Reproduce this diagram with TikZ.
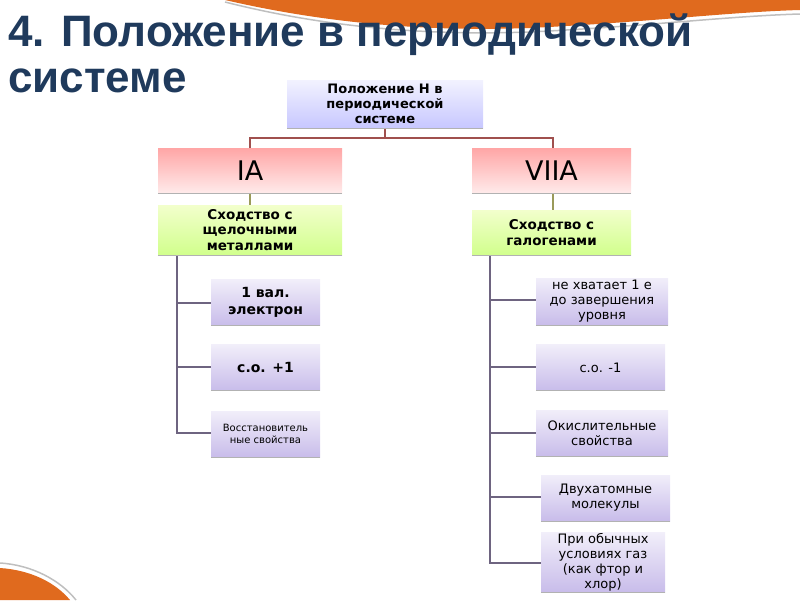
\documentclass[tikz,border=0pt]{standalone}
\usepackage{fontspec}
\setmainfont{DejaVu Sans}
\newfontfamily\titlefont{Liberation Sans}
\usetikzlibrary{positioning}
\definecolor{navy}{HTML}{1F3A5C}
\definecolor{swoosh}{HTML}{E06A1E}
\definecolor{redline}{HTML}{A0504E}
\definecolor{purline}{HTML}{6E6480}
\definecolor{oliveline}{HTML}{9A9A5A}
\definecolor{lav}{HTML}{C8BCEA}
\tikzset{
  box/.style={inner sep=1pt, align=center, text=black},
  topbox/.style={box, top color=blue!5, bottom color=blue!22, minimum width=196pt, minimum height=48pt, font=\bfseries\fontsize{13}{15}\selectfont},
  groupbox/.style={box, top color=red!35, bottom color=red!8, minimum height=45pt, font=\fontsize{27}{29}\selectfont},
  likebox/.style={box, top color=green!25!yellow!20, bottom color=green!40!yellow!45, minimum height=48pt, font=\bfseries\fontsize{13.5}{15.5}\selectfont},
  propbox/.style={box, top color=lav!25, bottom color=lav, minimum height=46pt, font=\fontsize{13}{15}\selectfont},
  boldprop/.style={propbox, font=\bfseries\fontsize{14}{17}\selectfont},
  edge/.style={line width=1.2pt},
  under/.style={draw=gray!60, line width=1pt}
}
\begin{document}
\begin{tikzpicture}[x=1pt,y=-1pt]
\useasboundingbox (0,0) rectangle (800,600);
% decoration
\fill[swoosh] (225,0) .. controls (320,22) and (420,32) .. (530,28) .. controls (650,22) and (730,12) .. (800,10) -- (800,0) -- cycle;
\draw[gray!50, line width=1.5pt] (225,2) .. controls (320,26) and (420,36) .. (530,32) .. controls (650,26) and (730,16) .. (800,14);
\fill[swoosh] (0,568) .. controls (30,570) and (55,582) .. (70,600) -- (0,600) -- cycle;
\draw[gray!50, line width=1.5pt] (0,563) .. controls (32,565) and (60,580) .. (76,600);
% title
\node (title) [anchor=north west, align=left, text=navy, inner sep=0pt, font=\titlefont\bfseries\fontsize{44}{46}\selectfont] at (8,14) {4. Положение в периодической\\системе};

% connectors
\draw[edge, redline] (385,128) -- (385,138) -- (250,138) -- (250,148);
\draw[edge, redline] (385,138) -- (553,138) -- (553,148);
\draw[edge, oliveline] (250,193) -- (250,205);
\draw[edge, oliveline] (553,193) -- (553,210);
\draw[edge, purline] (177,255) -- (177,433) -- (211,433);
\foreach \y in {303,367} \draw[edge, purline] (177,\y) -- (211,\y);
\draw[edge, purline] (490,255) -- (490,563) -- (541,563);
\foreach \y/\x in {300/536,367/536,433/536,497/541} \draw[edge, purline] (490,\y) -- (\x,\y);

% nodes
\node (top) [topbox] at (385,104) {Положение Н в\\периодической\\системе};
\node (ia) [groupbox, minimum width=184pt] at (250,170.5) {IA};
\node (viia) [groupbox, minimum width=159pt] at (551.5,170.5) {VIIA};
\node (alk) [likebox, minimum width=184pt, minimum height=50pt] at (250,230) {Сходство с\\щелочными\\металлами};
\node (hal) [likebox, minimum width=159pt, minimum height=45pt] at (551.5,232.5) {Сходство с\\галогенами};

\node (val) [boldprop, minimum width=109pt] at (265.5,302.5) {1 вал.\\электрон};
\node (so1) [boldprop, minimum width=109pt] at (265.5,367.5) {с.о. +1};
\node (red) [propbox, minimum width=109pt, font=\fontsize{10}{12.5}\selectfont] at (265.5,434) {Восстановитель\\ные свойства};

\node (lack) [propbox, minimum width=132pt, minimum height=47pt] at (602,301.5) {не хватает 1 е\\до завершения\\уровня};
\node (so2) [propbox, minimum width=129pt] at (600.5,367.5) {с.о. -1};
\node (ox) [propbox, minimum width=132pt] at (602,433) {Окислительные\\свойства};
\node (diat) [propbox, minimum width=129pt] at (605.5,498) {Двухатомные\\молекулы};
\node (gas) [propbox, minimum width=124pt, minimum height=49pt] at (603,562.5) {При обычных\\условиях газ\\(как фтор и\\хлор)};

% shadows under boxes
\foreach \n in {top,ia,viia,alk,hal,val,so1,red,lack,so2,ox,diat,gas}
  \draw[under] (\n.south west) -- (\n.south east);
\end{tikzpicture}
\end{document}
